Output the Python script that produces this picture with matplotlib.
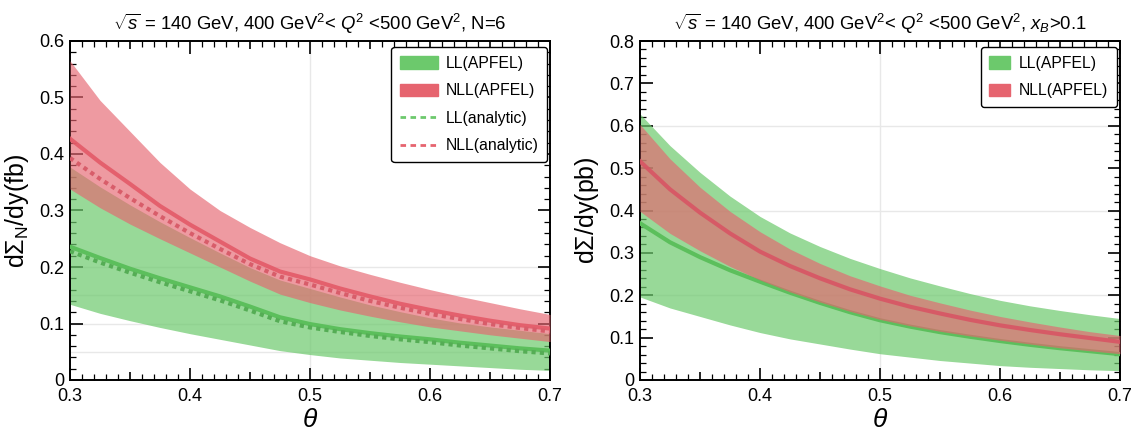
import numpy as np
import matplotlib.pyplot as plt
from matplotlib.lines import Line2D
from matplotlib.patches import Patch
from matplotlib.ticker import FuncFormatter, MultipleLocator

plt.rcParams['font.family'] = ['Liberation Sans', 'DejaVu Sans']
plt.rcParams['mathtext.fontset'] = 'custom'
plt.rcParams['mathtext.rm'] = 'Liberation Sans'
plt.rcParams['mathtext.it'] = 'Liberation Sans:italic'

# Dados
theta = [0.300, 0.325, 0.350, 0.375, 0.400, 0.425, 0.450, 0.475, 0.500,
         0.525, 0.550, 0.575, 0.600, 0.625, 0.650, 0.675, 0.700]

# painel esquerdo: N=6 (fb)
ll_lo_L = [0.134, 0.118, 0.105, 0.093, 0.082, 0.072, 0.062, 0.052, 0.045,
           0.039, 0.035, 0.031, 0.028, 0.025, 0.022, 0.019, 0.017]
ll_hi_L = [0.377, 0.342, 0.310, 0.280, 0.252, 0.225, 0.199, 0.177, 0.162,
           0.147, 0.133, 0.121, 0.110, 0.101, 0.094, 0.088, 0.082]
ll_mid_L = [0.236, 0.216, 0.197, 0.180, 0.164, 0.148, 0.130, 0.111, 0.099,
            0.090, 0.083, 0.077, 0.072, 0.066, 0.061, 0.056, 0.052]
ll_ana_L = [0.228, 0.208, 0.190, 0.173, 0.157, 0.141, 0.123, 0.104, 0.093,
            0.085, 0.078, 0.072, 0.067, 0.061, 0.056, 0.051, 0.047]
nll_lo_L = [0.338, 0.305, 0.276, 0.250, 0.225, 0.200, 0.175, 0.152, 0.137,
            0.124, 0.113, 0.103, 0.094, 0.087, 0.080, 0.074, 0.068]
nll_hi_L = [0.565, 0.495, 0.440, 0.385, 0.338, 0.300, 0.270, 0.243, 0.220,
            0.202, 0.187, 0.173, 0.160, 0.148, 0.137, 0.126, 0.116]
nll_mid_L = [0.427, 0.385, 0.347, 0.308, 0.275, 0.245, 0.215, 0.192, 0.178,
             0.162, 0.148, 0.135, 0.124, 0.114, 0.105, 0.097, 0.091]
nll_ana_L = [0.393, 0.356, 0.322, 0.290, 0.260, 0.232, 0.205, 0.183, 0.169,
             0.154, 0.140, 0.128, 0.117, 0.108, 0.099, 0.092, 0.086]

# painel direito: x_B>0.1 (pb)
ll_lo_R = [0.196, 0.170, 0.150, 0.130, 0.112, 0.097, 0.085, 0.073, 0.062,
           0.054, 0.046, 0.040, 0.034, 0.030, 0.027, 0.024, 0.022]
ll_hi_R = [0.628, 0.553, 0.490, 0.434, 0.386, 0.347, 0.315, 0.287, 0.263,
           0.241, 0.222, 0.204, 0.188, 0.175, 0.164, 0.154, 0.145]
ll_mid_R = [0.370, 0.325, 0.290, 0.259, 0.232, 0.206, 0.182, 0.160, 0.141,
            0.126, 0.113, 0.102, 0.092, 0.083, 0.075, 0.068, 0.061]
nll_lo_R = [0.398, 0.346, 0.305, 0.268, 0.236, 0.208, 0.184, 0.162, 0.143,
            0.128, 0.115, 0.104, 0.094, 0.085, 0.076, 0.069, 0.062]
nll_hi_R = [0.603, 0.522, 0.455, 0.398, 0.350, 0.309, 0.275, 0.246, 0.222,
            0.200, 0.182, 0.165, 0.150, 0.137, 0.125, 0.114, 0.105]
nll_mid_R = [0.516, 0.450, 0.395, 0.346, 0.303, 0.269, 0.240, 0.214, 0.192,
             0.173, 0.157, 0.142, 0.129, 0.118, 0.108, 0.099, 0.090]

verde = '#6cc96c'
vermelho = '#e6646f'

fig = plt.figure(figsize=(11.38, 4.32), dpi=100)
ax1 = fig.add_axes([70/1138, 52/432, 480/1138, 339/432])
ax2 = fig.add_axes([640/1138, 52/432, 480/1138, 339/432])


def estilo(ax, ymax, grid_y):
    ax.set_xlim(0.3, 0.7)
    ax.set_ylim(0, ymax)
    for g in grid_y:
        ax.axhline(g, color='#e8e8e8', lw=1, zorder=0)
    ax.axvline(0.5, color='#e8e8e8', lw=1, zorder=0)
    ax.set_xticks(np.arange(0.3, 0.7001, 0.05))
    ax.set_xticklabels(['0.3', '', '0.4', '', '0.5', '', '0.6', '', '0.7'])
    ax.xaxis.set_minor_locator(MultipleLocator(0.01))
    ax.yaxis.set_major_locator(MultipleLocator(0.1))
    ax.yaxis.set_minor_locator(MultipleLocator(0.02))
    ax.yaxis.set_major_formatter(FuncFormatter(lambda v, p: '0' if abs(v) < 1e-9 else f'{v:.1f}'))
    ax.tick_params(which='both', direction='in', top=True, right=True, labelsize=13)
    ax.tick_params(which='major', length=9, width=1.2, pad=4)
    ax.tick_params(axis='x', which='major', pad=6)
    ax.tick_params(which='minor', length=4, width=0.9)
    for i, t in enumerate(ax.xaxis.get_major_ticks()):
        if i % 2 == 1:
            t.tick1line.set_markersize(6)
            t.tick2line.set_markersize(6)
    for s in ax.spines.values():
        s.set_linewidth(1.4)
    ax.set_xlabel(r'$\theta$', fontsize=19, labelpad=2)


# --- painel esquerdo
estilo(ax1, 0.6, [0.05, 0.1, 0.15, 0.2])
ax1.fill_between(theta, ll_lo_L, ll_hi_L, color=verde, alpha=0.7, lw=0, zorder=2)
ax1.plot(theta, ll_mid_L, color='#5cbf5c', lw=3, zorder=3)
ax1.plot(theta, ll_ana_L, color='#55ad55', lw=3, ls=(0, (1, 1)), zorder=3)
ax1.fill_between(theta, nll_lo_L, nll_hi_L, color=vermelho, alpha=0.65, lw=0, zorder=4)
ax1.plot(theta, nll_mid_L, color='#e35a68', lw=3, alpha=0.9, zorder=5)
ax1.plot(theta, nll_ana_L, color='#d85d6a', lw=3, ls=(0, (1, 1)), zorder=5)
ax1.set_ylabel(r'd$\Sigma_{\rm N}$/dy(fb)', fontsize=18, labelpad=6)
ax1.set_title(r'$\sqrt{s}$ = 140 GeV, 400 GeV$^2$< $Q^2$ <500 GeV$^2$, N=6', fontsize=13.3, pad=8)

h1 = [Patch(color=verde), Patch(color=vermelho),
      Line2D([], [], color=verde, lw=2, ls=(0, (2, 1.6))),
      Line2D([], [], color=vermelho, lw=2, ls=(0, (2, 1.6)))]
leg1 = ax1.legend(h1, ['LL(APFEL)', 'NLL(APFEL)', 'LL(analytic)', 'NLL(analytic)'],
                  loc='upper right', fontsize=11.3, handlelength=2.4, handleheight=0.85,
                  labelspacing=0.8, borderpad=0.55, handletextpad=0.5, borderaxespad=0,
                  fancybox=True, framealpha=1, edgecolor='black', bbox_to_anchor=(0.994, 0.982))
leg1.get_frame().set_linewidth(1.0)

# --- painel direito
estilo(ax2, 0.8, [0.2, 0.4, 0.6])
ax2.fill_between(theta, ll_lo_R, ll_hi_R, color=verde, alpha=0.7, lw=0, zorder=2)
ax2.plot(theta, ll_mid_R, color='#5cbf5c', lw=3, zorder=3)
ax2.fill_between(theta, nll_lo_R, nll_hi_R, color=vermelho, alpha=0.65, lw=0, zorder=4)
ax2.plot(theta, nll_mid_R, color='#d85564', lw=3, alpha=0.9, zorder=5)
ax2.set_ylabel(r'd$\Sigma$/dy(pb)', fontsize=18, labelpad=6)
ax2.set_title(r'$\sqrt{s}$ = 140 GeV, 400 GeV$^2$< $Q^2$ <500 GeV$^2$, $x_B$>0.1', fontsize=13.3, pad=8)

h2 = [Patch(color=verde), Patch(color=vermelho)]
leg2 = ax2.legend(h2, ['LL(APFEL)', 'NLL(APFEL)'], loc='upper right', fontsize=11.3,
                  handlelength=1.3, handleheight=0.85, labelspacing=0.8, borderpad=0.55,
                  handletextpad=0.6, borderaxespad=0, fancybox=True, framealpha=1,
                  edgecolor='black', bbox_to_anchor=(0.994, 0.982))
leg2.get_frame().set_linewidth(1.0)

fig.savefig('out.png', dpi=100)
